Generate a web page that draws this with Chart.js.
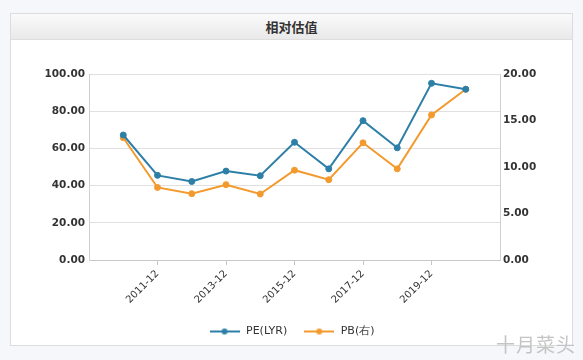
<!DOCTYPE html>
<html>
<head>
<meta charset="utf-8">
<script src="https://cdn.jsdelivr.net/npm/chart.js@4/dist/chart.umd.min.js"></script>
<style>
  body { margin: 0; background: #f5f7fa; font-family: "DejaVu Sans", "Noto Sans CJK SC", sans-serif; }
  .panel { position: absolute; left: 10px; top: 13px; width: 561px; height: 331px; border: 1px solid #dcdcdc; background: #fff; }
  .head { height: 25px; line-height: 25px; text-align: center; font-size: 13px; font-weight: bold; color: #333;
          background: linear-gradient(#fafafa, #e9e9e9); border-bottom: 1px solid #dedede;
          font-family: "Noto Sans CJK SC", sans-serif; }
  .wm { position: absolute; right: 7px; bottom: 3px; font-size: 19px; color: #c4c4c4; font-family: "Noto Sans CJK SC", sans-serif; letter-spacing: 1px; }
</style>
</head>
<body>
<div class="panel">
  <div class="head">相对估值</div>
  <div style="position:relative;width:561px;height:309px"><canvas id="myChart"></canvas></div>
</div>
<div class="wm">十月菜头</div>
<script>
const categories = ["2010-12", "2011-12", "2012-12", "2013-12", "2014-12", "2015-12", "2016-12", "2017-12", "2018-12", "2019-12", "2020-12"];
const peValues = [67.2, 45.5, 42.2, 47.8, 45.3, 63.3, 49.0, 74.9, 60.3, 95.0, 91.8];
const pbValues = [13.15, 7.8, 7.13, 8.1, 7.1, 9.66, 8.63, 12.6, 9.8, 15.6, 18.36];
const xTickLabels = ["2011-12", "2013-12", "2015-12", "2017-12", "2019-12"];
const leftTicks = [0, 20, 40, 60, 80, 100];
const rightTicks = [0, 5, 10, 15, 20];

const blue = '#2e7fa8';
const orange = '#f39a2e';

// little line+dot used in the legend
function legendIcon(color) {
  const c = document.createElement('canvas');
  c.width = 30; c.height = 10;
  const g = c.getContext('2d');
  g.strokeStyle = color; g.lineWidth = 2;
  g.beginPath(); g.moveTo(0, 5); g.lineTo(30, 5); g.stroke();
  g.fillStyle = color;
  g.beginPath(); g.arc(15, 5, 3, 0, Math.PI * 2); g.fill();
  return c;
}

const ctx = document.getElementById('myChart');
new Chart(ctx, {
  type: 'line',
  data: {
    datasets: [{
      label: 'PE(LYR)',
      data: peValues.map((v, i) => ({ x: i, y: v })),
      borderColor: blue, backgroundColor: blue,
      borderWidth: 2, pointRadius: 3, pointBorderWidth: 1, pointHoverRadius: 4,
      yAxisID: 'y'
    }, {
      label: 'PB(右)',
      data: pbValues.map((v, i) => ({ x: i, y: v })),
      borderColor: orange, backgroundColor: orange,
      borderWidth: 2, pointRadius: 3, pointBorderWidth: 1, pointHoverRadius: 4,
      yAxisID: 'y1'
    }]
  },
  options: {
    responsive: true,
    maintainAspectRatio: false,
    animation: false,
    layout: { padding: { top: 34, left: 0, right: 0, bottom: 2 } },
    plugins: {
      tooltip: { enabled: false },
      legend: {
        position: 'bottom',
        labels: {
          usePointStyle: true,
          pointStyleWidth: 32,
          generateLabels: (chart) => chart.data.datasets.map((d, i) => ({
            text: d.label, pointStyle: legendIcon(d.borderColor), fontColor: '#333',
            datasetIndex: i, hidden: false, lineWidth: 0, strokeStyle: 'transparent'
          })),
          font: { size: 11, family: 'DejaVu Sans' },
          color: '#333',
          padding: 16
        }
      }
    },
    scales: {
      x: {
        type: 'linear',
        min: -1, max: 11,
        afterBuildTicks: (s) => { s.ticks = xTickLabels.map(l => ({ value: categories.indexOf(l) })); },
        afterFit: (s) => { s.height = 50; },
        ticks: {
          callback: (v) => categories[v],
          maxRotation: 45, minRotation: 45,
          color: '#333', font: { size: 10, family: 'DejaVu Sans' }, padding: 3
        },
        grid: { drawOnChartArea: false, drawTicks: true, tickLength: 5, color: '#c8c8c8' },
        border: { color: '#c8c8c8' }
      },
      y: {
        position: 'left',
        min: 0, max: 100,
        afterBuildTicks: (s) => { s.ticks = leftTicks.map(v => ({ value: v })); },
        afterFit: (s) => { s.width = 78; },
        ticks: {
          callback: (v) => v.toFixed(2),
          color: '#333', font: { size: 10.5, weight: 'bold', family: 'DejaVu Sans' }, padding: 4
        },
        grid: { color: '#e0e0e0', tickLength: 0 },
        border: { color: '#d0d0d0' }
      },
      y1: {
        position: 'right',
        min: 0, max: 20,
        afterBuildTicks: (s) => { s.ticks = rightTicks.map(v => ({ value: v })); },
        afterFit: (s) => { s.width = 72; },
        ticks: {
          callback: (v) => v.toFixed(2),
          color: '#333', font: { size: 10.5, weight: 'bold', family: 'DejaVu Sans' }, padding: 3
        },
        grid: { drawOnChartArea: false, tickLength: 0 },
        border: { color: '#d0d0d0' }
      }
    }
  }
});
</script>
</body>
</html>
